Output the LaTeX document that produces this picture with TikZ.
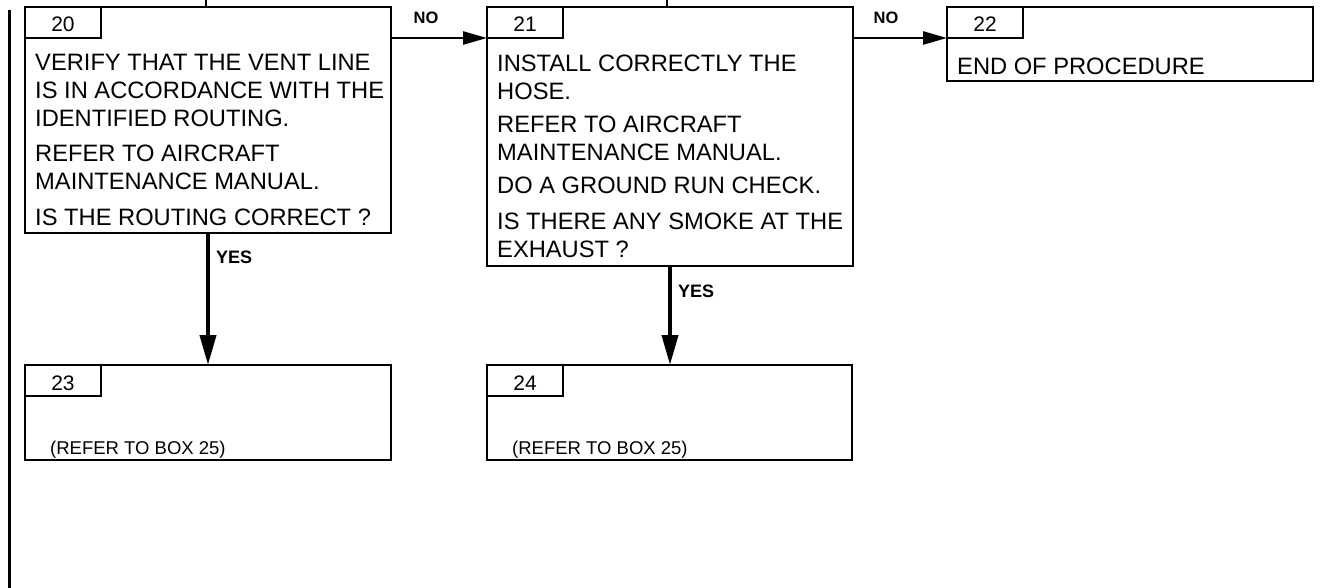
\documentclass[tikz,border=0pt]{standalone}
\usepackage{fontspec}
\setmainfont{Liberation Sans}
\usetikzlibrary{arrows.meta}
\begin{document}
\begin{tikzpicture}[x=1pt,y=-1pt,
  box/.style={draw, line width=2.5pt, inner sep=0pt, outer sep=0pt, anchor=north west},
  tab/.style={draw, line width=2pt, inner sep=0pt, outer sep=0pt, anchor=north west, minimum width=76pt, minimum height=31pt},
  num/.style={inner sep=0pt, anchor=base, font=\fontsize{21}{24}\selectfont},
  txt/.style={inner sep=0pt, anchor=base west, font=\fontsize{23.7}{28}\selectfont},
  small/.style={inner sep=0pt, anchor=base west, font=\fontsize{18.5}{22}\selectfont},
  lbl/.style={inner sep=0pt, font=\bfseries\fontsize{16.5}{20}\selectfont},
  noarrow/.style={line width=2.5pt, -{Triangle[length=24pt,width=13pt]}},
  yesarrow/.style={line width=4pt, -{Triangle[length=30pt,width=16pt]}},
  stub/.style={line width=2pt}
]
\fill[white] (0,0) rectangle (1323,588);
\useasboundingbox (0,0) rectangle (1323,588);

% left change bar
\coordinate (bartop) at (9.5,10);
\coordinate (barbot) at (9.5,588);
\draw[line width=3.5pt] (bartop) -- (barbot);

% boxes
\node[box, minimum width=366pt, minimum height=226pt] (b20) at (25,7) {};
\node[box, minimum width=366pt, minimum height=259pt] (b21) at (487,7) {};
\node[box, minimum width=366pt, minimum height=74pt] (b22) at (947,7) {};
\node[box, minimum width=366pt, minimum height=95pt] (b23) at (25,365) {};
\node[box, minimum width=365pt, minimum height=95pt] (b24) at (487,365) {};

% number tabs
\node[tab] (tab20) at (b20.north west) {};
\node[tab] (tab21) at (b21.north west) {};
\node[tab] (tab22) at (b22.north west) {};
\node[tab] (tab23) at (b23.north west) {};
\node[tab] (tab24) at (b24.north west) {};
\node[num] (n20) at (63,32) {20};
\node[num] (n21) at (525,32) {21};
\node[num] (n22) at (985,32) {22};
\node[num] (n23) at (63,390) {23};
\node[num] (n24) at (525,390) {24};

% box 20 text
\node[txt] (t20a) at (35,71) {VERIFY THAT THE VENT LINE};
\node[txt] (t20b) at (35,99) {IS IN ACCORDANCE WITH THE};
\node[txt] (t20c) at (35,127) {IDENTIFIED ROUTING.};
\node[txt] (t20d) at (35,162) {REFER TO AIRCRAFT};
\node[txt] (t20e) at (35,190) {MAINTENANCE MANUAL.};
\node[txt] (t20f) at (35,226) {IS THE ROUTING CORRECT ?};

% box 21 text
\node[txt] (t21a) at (497,72) {INSTALL CORRECTLY THE};
\node[txt] (t21b) at (497,100) {HOSE.};
\node[txt] (t21c) at (497,133) {REFER TO AIRCRAFT};
\node[txt] (t21d) at (497,161) {MAINTENANCE MANUAL.};
\node[txt] (t21e) at (497,194) {DO A GROUND RUN CHECK.};
\node[txt] (t21f) at (497,230) {IS THERE ANY SMOKE AT THE};
\node[txt] (t21g) at (497,258) {EXHAUST ?};

% box 22 text
\node[txt] (t22a) at (957,75) {END OF PROCEDURE};

% boxes 23, 24 text
\node[small] (t23a) at (50,454) {(REFER TO BOX 25)};
\node[small] (t24a) at (512,454) {(REFER TO BOX 25)};

% stubs from above
\draw[stub] (b20.north) ++(-2,0) -- ++(0,-7);
\draw[stub] (b21.north) ++(-3,0) -- ++(0,-7);

% connectors
\draw[noarrow] (b20.east |- tab21.south west) -- (tab21.south west);
\draw[noarrow] (b21.east |- tab22.south west) -- (tab22.south west);
\draw[yesarrow] (b20.south) -- (b23.north);
\draw[yesarrow] (b21.south) -- (b21.south |- b24.north);

% labels
\node[lbl, anchor=base] (no1) at (426,24) {NO};
\node[lbl, anchor=base] (no2) at (886,24) {NO};
\node[lbl, anchor=base west, font=\bfseries\fontsize{18}{20}\selectfont] (yes1) at (216,264) {YES};
\node[lbl, anchor=base west, font=\bfseries\fontsize{18}{20}\selectfont] (yes2) at (678,298) {YES};
\end{tikzpicture}
\end{document}
